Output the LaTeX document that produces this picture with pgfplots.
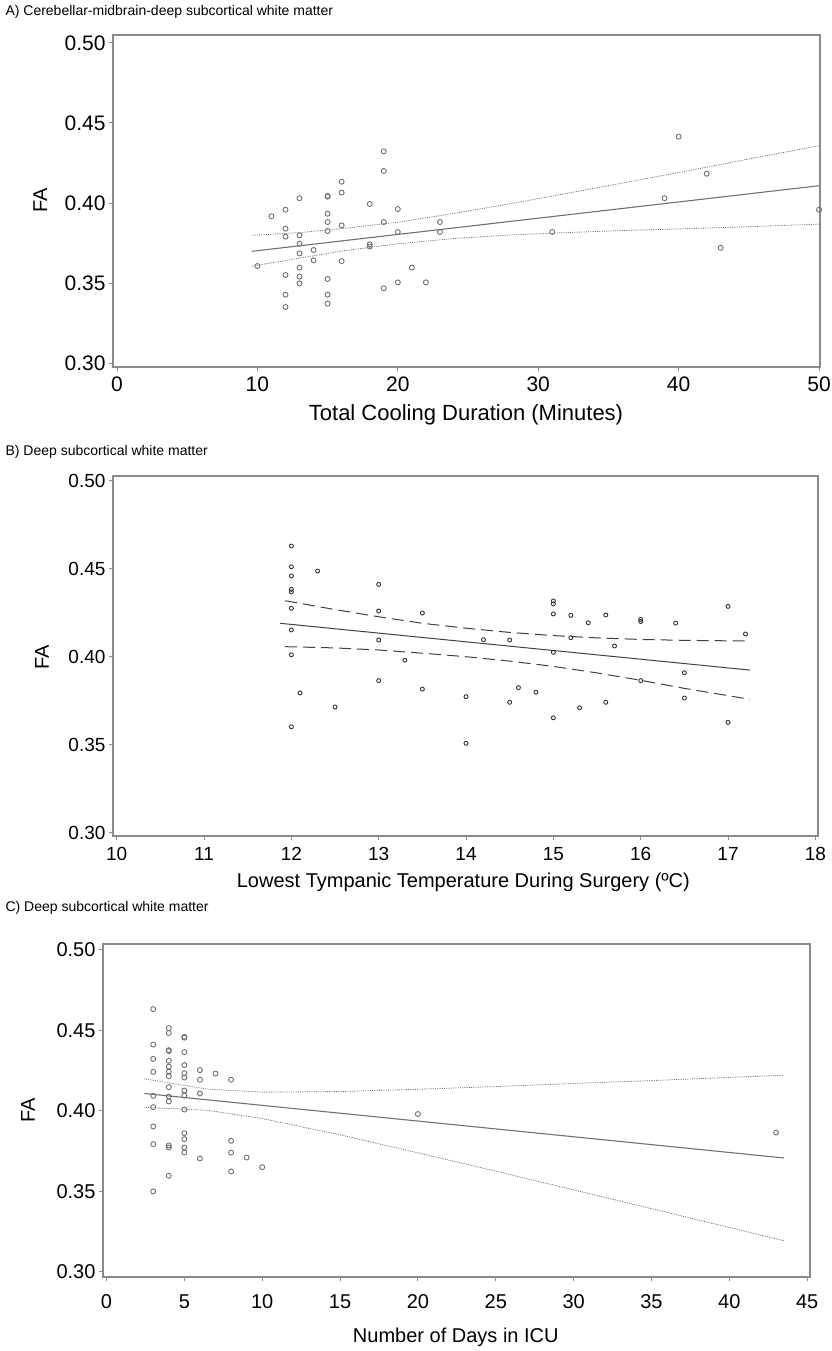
\documentclass[border=0pt]{standalone}
\usepackage{fontspec}
\setmainfont{Liberation Sans}
\usepackage{graphicx}
\usepackage{pgfplots}
\pgfplotsset{compat=1.18}

\definecolor{ptgray}{HTML}{707070}
\definecolor{axgray}{HTML}{8A8A8A}

\pgfplotsset{
  panel/.style={
    scale only axis, anchor=south west,
    axis line style={axgray, line width=1.3pt},
    tick align=outside, tick pos=left,
    major tick length=4pt,
    every tick/.style={axgray, line width=1pt},
    /pgf/number format/assume math mode=true,
    yticklabel style={/pgf/number format/.cd, fixed, fixed zerofill, precision=2},
    ytick={0.30,0.35,0.40,0.45,0.50},
    tick label style={font=\fontsize{20}{22}\selectfont},
    label style={font=\fontsize{20}{22}\selectfont},
    every axis y label/.append style={anchor=center},
  },
  pts/.style={only marks, mark=o, mark size=2.5pt, mark options={ptgray, line width=0.9pt}},
}

\begin{document}
\begin{tikzpicture}
\useasboundingbox (0,0) rectangle (832pt,-1351pt);

% ---------- A ----------
\node[anchor=west, font=\fontsize{14}{16}\selectfont] at (2pt,-12pt) {A) Cerebellar-midbrain-deep subcortical white matter};
\begin{axis}[panel, at={(113pt,-367pt)}, width=707pt, height=332pt,
    xmin=-0.285, xmax=50.07, ymin=0.2975, ymax=0.505,
    xtick={0,10,20,30,40,50},
    tick label style={font=\fontsize{21}{23}\selectfont},
    xticklabel style={yshift=-2pt},
    xlabel={Total Cooling Duration (Minutes)}, ylabel={FA},
    x label style={at={(axis description cs:0.4993,-0.145)}, anchor=center, font=\fontsize{22}{24}\selectfont},
    y label style={at={(axis description cs:-0.103,0.503)}},
]
\addplot[pts] coordinates {
(10,0.3606) (11,0.3917) (12,0.3958) (12,0.3839) (12,0.3790) (12,0.3550) (12,0.3427) (12,0.3350)
(13,0.4030) (13,0.3798) (13,0.3746) (13,0.3685) (13,0.3596) (13,0.3540) (13,0.3498)
(14,0.3706) (14,0.3642)
(15,0.4044) (15,0.4040) (15,0.3933) (15,0.3881) (15,0.3825) (15,0.3525) (15,0.3427) (15,0.3371)
(16,0.4133) (16,0.4065) (16,0.3860) (16,0.3637)
(18,0.3994) (18,0.3742) (18,0.3728)
(19,0.4323) (19,0.4200) (19,0.3881) (19,0.3467)
(20,0.3962) (20,0.3819) (20,0.3504)
(21,0.3596) (22,0.3504) (23,0.3881) (23,0.3819)
(31,0.3819) (39,0.4030) (40,0.4415) (42,0.4183) (43,0.3720) (50,0.3958)
};
\addplot[ptgray, line width=1.1pt] coordinates {(9.6,0.3698) (50,0.4108)};
\addplot[ptgray, line width=0.8pt, densely dotted] coordinates {
(9.6,0.3798) (13,0.3815) (16,0.3840) (20,0.3880) (24,0.3935) (28,0.3995) (32,0.4060) (36,0.4125) (40,0.4190) (45,0.4275) (50,0.4358)
};
\addplot[ptgray, line width=0.8pt, densely dotted] coordinates {
(9.6,0.3605) (13,0.3655) (16,0.3700) (20,0.3745) (24,0.3778) (28,0.3800) (32,0.3815) (36,0.3828) (40,0.3838) (45,0.3852) (50,0.3868)
};
\end{axis}

% ---------- B ----------
\node[anchor=west, font=\fontsize{14}{16}\selectfont] at (2pt,-452pt) {B) Deep subcortical white matter};
\begin{axis}[panel, at={(113pt,-836pt)}, width=705pt, height=360pt,
    xmin=9.958, xmax=18.03, ymin=0.2981, ymax=0.5027,
    xtick={10,11,...,18},
    tick label style={font=\fontsize{19}{21}\selectfont},
    xticklabel style={yshift=-4pt},
    xlabel={Lowest Tympanic Temperature During Surgery (ºC)}, ylabel={FA},
    x label style={at={(axis description cs:0.497,-0.13)}, anchor=center},
    y label style={at={(axis description cs:-0.1007,0.497)}},
]
\addplot[only marks, mark=o, mark size=2pt, mark options={black!80, line width=0.9pt}] coordinates {
(12,0.4629) (12,0.4511) (12,0.4459) (12,0.4383) (12,0.4368) (12,0.4275) (12,0.4152) (12,0.4011) (12,0.3602)
(12.1,0.3794) (12.3,0.4487) (12.5,0.3714)
(13,0.4411) (13,0.4260) (13,0.4095) (13,0.3864)
(13.3,0.3980) (13.5,0.4248) (13.5,0.3816)
(14,0.3773) (14,0.3508) (14.2,0.4097)
(14.5,0.4095) (14.5,0.3741) (14.6,0.3824) (14.8,0.3798)
(15,0.4317) (15,0.4300) (15,0.4243) (15,0.4025) (15,0.3653)
(15.2,0.4235) (15.2,0.4108) (15.3,0.3710) (15.4,0.4193) (15.6,0.4237) (15.6,0.3741) (15.7,0.4061)
(16,0.4212) (16,0.4200) (16,0.3864) (16.4,0.4191) (16.5,0.3909) (16.5,0.3765)
(17,0.4286) (17,0.3627) (17.2,0.4129)
};
\addplot[black!75, line width=1pt] coordinates {(11.87,0.4190) (17.25,0.3924)};
\addplot[black!75, line width=1pt, dash pattern=on 12pt off 6pt] coordinates {
(11.93,0.4318) (12.5,0.4268) (13,0.4227) (13.5,0.4190) (14,0.4162) (14.5,0.4138) (15,0.4120) (15.5,0.4107) (16,0.4098) (16.5,0.4093) (17.25,0.4089)
};
\addplot[black!75, line width=1pt, dash pattern=on 12pt off 6pt] coordinates {
(11.93,0.4057) (12.5,0.4050) (13,0.4038) (13.5,0.4020) (14,0.4000) (14.5,0.3975) (15,0.3945) (15.5,0.3908) (16,0.3866) (16.5,0.3820) (17.25,0.3758)
};
\end{axis}

% ---------- C ----------
\node[anchor=west, font=\fontsize{14}{16}\selectfont] at (2pt,-908pt) {C) Deep subcortical white matter};
\begin{axis}[panel, at={(103pt,-1277pt)}, width=707pt, height=333pt,
    xmin=-0.225, xmax=45.18, ymin=0.2967, ymax=0.5037,
    xtick={0,5,...,45},
    xticklabel style={yshift=-10pt},
    xlabel={Number of Days in ICU}, ylabel={FA},
    x label style={at={(axis description cs:0.499,-0.18)}, anchor=center},
    y label style={at={(axis description cs:-0.106,0.5)}},
]
\addplot[pts] coordinates {
(3,0.4632) (3,0.4412) (3,0.4323) (3,0.4242) (3,0.4093) (3,0.4023) (3,0.3903) (3,0.3793) (3,0.3499)
(4,0.4514) (4,0.4484) (4,0.4377) (4,0.4372) (4,0.4311) (4,0.4275) (4,0.4244) (4,0.4215) (4,0.4147) (4,0.4089) (4,0.4058) (4,0.3785) (4,0.3772) (4,0.3596)
(5,0.4460) (5,0.4455) (5,0.4365) (5,0.4284) (5,0.4234) (5,0.4207) (5,0.4126) (5,0.4095) (5,0.4008) (5,0.3861) (5,0.3824) (5,0.3772) (5,0.3741)
(6,0.4253) (6,0.4193) (6,0.4108) (6,0.3704)
(7,0.4232)
(8,0.4193) (8,0.3814) (8,0.3741) (8,0.3623)
(9,0.3710) (10,0.3650)
(20,0.3980) (43,0.3865)
};
\addplot[ptgray, line width=1.1pt] coordinates {(2.43,0.4108) (43.5,0.3707)};
\addplot[ptgray, line width=0.8pt, densely dotted] coordinates {
(2.43,0.4199) (6.5,0.4135) (10,0.4116) (15,0.4120) (20,0.4134) (25,0.4151) (30,0.4170) (35,0.4188) (40,0.4208) (43.5,0.4221)
};
\addplot[ptgray, line width=0.8pt, densely dotted] coordinates {
(2.43,0.4022) (6.5,0.4003) (10,0.3952) (15,0.3851) (20,0.3739) (25,0.3625) (30,0.3509) (35,0.3392) (40,0.3275) (43.5,0.3193)
};
\end{axis}
\end{tikzpicture}
\end{document}
